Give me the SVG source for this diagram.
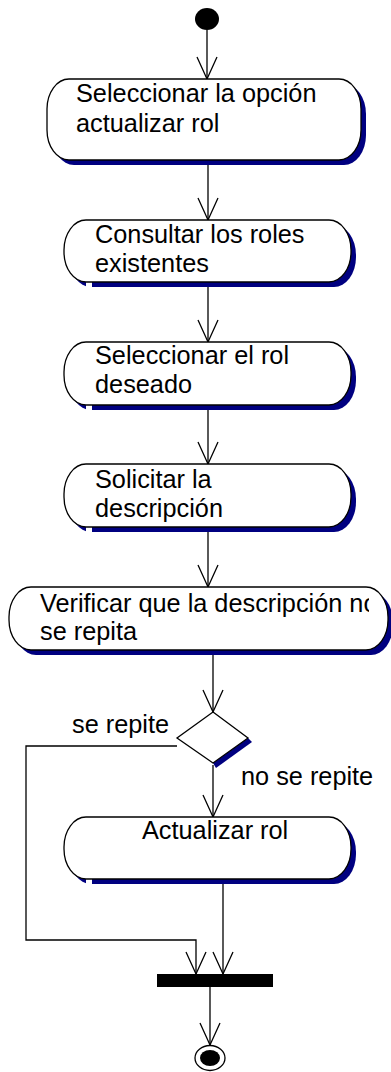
<svg xmlns="http://www.w3.org/2000/svg" width="391" height="1072" viewBox="0 0 391 1072">
<defs>
<style>
.sh{fill:#000080;stroke:none}
.bx{fill:#fff;stroke:#000;stroke-width:1.3}
.t{font-family:"Liberation Sans",Arial,sans-serif;font-size:25.3px;fill:#000}
.ln{fill:none;stroke:#000;stroke-width:1.3}
.gap{fill:#fff;stroke:none}
</style>
<marker id="arr" viewBox="-24 -12 26 24" refX="0" refY="0" markerWidth="26" markerHeight="24" markerUnits="userSpaceOnUse" orient="auto">
<path d="M-22,-10 L0,0 L-22,10" fill="none" stroke="#000" stroke-width="1.3"/>
</marker>
<clipPath id="clip5"><rect x="0" y="580" width="369" height="80"/></clipPath>
</defs>
<rect width="391" height="1072" fill="#fff"/>

<g id="connectors">
<line class="ln" x1="207" y1="30" x2="207" y2="79" marker-end="url(#arr)"/>
<line class="ln" x1="208" y1="165" x2="208" y2="220" marker-end="url(#arr)"/>
<line class="ln" x1="208" y1="287" x2="208" y2="342" marker-end="url(#arr)"/>
<line class="ln" x1="208" y1="410" x2="208" y2="464" marker-end="url(#arr)"/>
<line class="ln" x1="208" y1="532" x2="208" y2="587" marker-end="url(#arr)"/>
<line class="ln" x1="213" y1="655" x2="213" y2="712" marker-end="url(#arr)"/>
<line class="ln" x1="213" y1="765" x2="213" y2="817" marker-end="url(#arr)"/>
<polyline class="ln" points="177,746 26,746 26,940 196,940 196,974" marker-end="url(#arr)"/>
<line class="ln" x1="223" y1="884" x2="223" y2="974" marker-end="url(#arr)"/>
<line class="ln" x1="210" y1="987" x2="210" y2="1045" marker-end="url(#arr)"/>
<text class="t" x="72" y="733">se repite</text>
<text class="t" x="241" y="785">no se repite</text>
</g>

<g id="start">
<ellipse cx="207" cy="19" rx="12" ry="11" fill="#000"/>
</g>

<g id="n1">
<rect class="sh" x="52" y="84" width="314" height="81" rx="22" ry="30"/>
<rect class="bx" x="47" y="79" width="314" height="81" rx="22" ry="30"/>
<text class="t" x="76" y="102">Seleccionar la opción</text>
<text class="t" x="76" y="132">actualizar rol</text>
</g>

<g id="n2">
<rect class="sh" x="69" y="225" width="287" height="62" rx="22" ry="30"/>
<rect class="gap" x="86" y="270" width="6" height="18"/>
<rect class="bx" x="64" y="220" width="287" height="62" rx="22" ry="30"/>
<text class="t" x="95" y="243">Consultar los roles</text>
<text class="t" x="95" y="272">existentes</text>
</g>

<g id="n3">
<rect class="sh" x="69" y="347" width="287" height="63" rx="22" ry="30"/>
<rect class="gap" x="86" y="392" width="6" height="19"/>
<rect class="bx" x="64" y="342" width="287" height="63" rx="22" ry="30"/>
<text class="t" x="95" y="364">Seleccionar el rol</text>
<text class="t" x="95" y="393">deseado</text>
</g>

<g id="n4">
<rect class="sh" x="69" y="469" width="287" height="63" rx="22" ry="30"/>
<rect class="gap" x="86" y="514" width="6" height="19"/>
<rect class="bx" x="64" y="464" width="287" height="63" rx="22" ry="30"/>
<text class="t" x="95" y="488">Solicitar la</text>
<text class="t" x="95" y="517">descripción</text>
</g>

<g id="n5">
<rect class="sh" x="14" y="592" width="379" height="63" rx="22" ry="30"/>
<rect class="bx" x="9" y="587" width="379" height="63" rx="22" ry="30"/>
<g clip-path="url(#clip5)">
<text class="t" x="40" y="612">Verificar que la descripción no</text>
</g>
<text class="t" x="40" y="640">se repita</text>
</g>

<g id="decision">
<polygon class="sh" points="248,738 252,742 216,768 213,763"/>
<polygon class="bx" points="213,712 248,738 213,763 177,738"/>
</g>

<g id="n6">
<rect class="sh" x="69" y="822" width="287" height="62" rx="22" ry="30"/>
<rect class="gap" x="86" y="866" width="6" height="19"/>
<rect class="bx" x="64" y="817" width="287" height="62" rx="22" ry="30"/>
<text class="t" x="142" y="839">Actualizar rol</text>
</g>

<g id="join">
<rect x="157" y="974" width="116" height="13" fill="#000"/>
</g>

<g id="end">
<ellipse cx="210" cy="1058" rx="15" ry="12.5" fill="#fff" stroke="#000" stroke-width="1.3"/>
<ellipse cx="210" cy="1058" rx="10" ry="8" fill="#000"/>
</g>
</svg>
